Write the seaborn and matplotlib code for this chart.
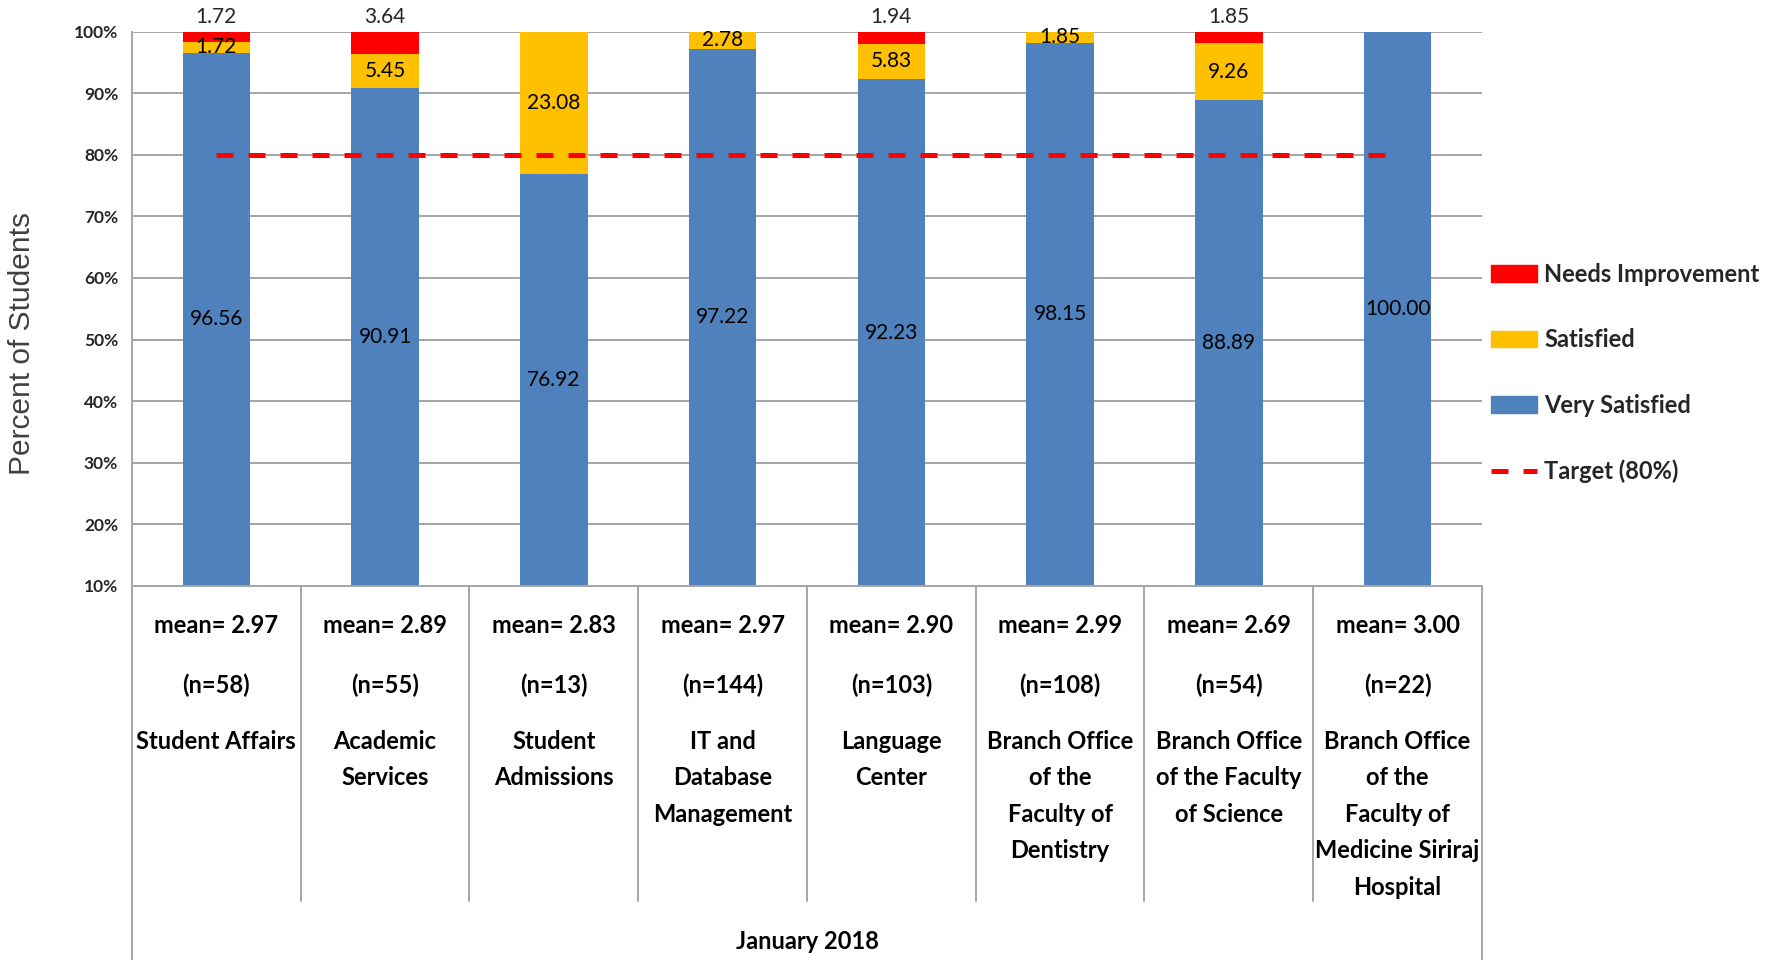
import numpy as np
import pandas as pd
import matplotlib.pyplot as plt
import seaborn as sns
from matplotlib.patches import Patch
from matplotlib.lines import Line2D

sns.set_style("white")
plt.rcParams["font.family"] = ["Lato", "DejaVu Sans"]

# data
offices = ["Student Affairs", "Academic\nServices", "Student\nAdmissions",
           "IT and\nDatabase\nManagement", "Language\nCenter",
           "Branch Office\nof the\nFaculty of\nDentistry",
           "Branch Office\nof the Faculty\nof Science",
           "Branch Office\nof the\nFaculty of\nMedicine Siriraj\nHospital"]
means = ["2.97", "2.89", "2.83", "2.97", "2.90", "2.99", "2.69", "3.00"]
counts = [58, 55, 13, 144, 103, 108, 54, 22]
very_satisfied = [96.56, 90.91, 76.92, 97.22, 92.23, 98.15, 88.89, 100.00]
satisfied = [1.72, 5.45, 23.08, 2.78, 5.83, 1.85, 9.26, 0.0]
needs_improvement = [1.72, 3.64, 0.0, 0.0, 1.94, 0.0, 1.85, 0.0]
target = [80] * len(offices)
period = "January 2018"

BLUE, YELLOW, RED = "#4F81BD", "#FFC000", "#FF0000"
GRID = "#A6A6A6"

df = pd.DataFrame({"office": offices, "very": very_satisfied,
                   "sat": satisfied, "needs": needs_improvement})
df["mid"] = df["very"] + df["sat"]
df["top"] = df["mid"] + df["needs"]

fig = plt.figure(figsize=(17.67, 9.6), dpi=100)
ax = fig.add_axes([0.0747, 0.3896, 0.764, 0.5775])

# stacked bars: draw cumulative totals back to front
sns.barplot(data=df, x="office", y="top", color=RED, width=0.4,
            saturation=1, linewidth=0, ax=ax)
sns.barplot(data=df, x="office", y="mid", color=YELLOW, width=0.4,
            saturation=1, linewidth=0, ax=ax)
sns.barplot(data=df, x="office", y="very", color=BLUE, width=0.4,
            saturation=1, linewidth=0, ax=ax)

# target line
sns.lineplot(x=np.arange(len(offices)), y=target, color=RED, linewidth=3.6,
             linestyle=(0, (3.4, 3)), ax=ax, zorder=5)

ax.set_ylim(10, 100)
ax.set_xlim(-0.5, len(offices) - 0.5)
ax.set_yticks(range(10, 101, 10))
ax.set_yticklabels([f"{t}%" for t in range(10, 101, 10)],
                   fontsize=12.5, fontweight="bold", color="#262626")
ax.set_xticks([])
ax.set_xlabel("")
ax.set_ylabel("")
ax.set_axisbelow(True)
ax.yaxis.grid(True, color=GRID, linewidth=1.4)
for s in ["top", "right"]:
    ax.spines[s].set_visible(False)
for s in ["left", "bottom"]:
    ax.spines[s].set_color(GRID)
    ax.spines[s].set_linewidth(1.4)
ax.tick_params(axis="y", length=6, width=1.4, color=GRID, pad=4)

# value labels
lab_font = dict(fontsize=15, color="black", ha="center", va="center")
ax.bar_label(ax.containers[0],
             labels=[f"{v:.2f}" if v > 0 else "" for v in needs_improvement],
             padding=3, fontsize=15)
for i, (v, s) in enumerate(zip(very_satisfied, satisfied)):
    ax.text(i, (10 + v) / 2, f"{v:.2f}", **lab_font)
    if s > 0:
        ax.text(i, v + s / 2, f"{s:.2f}", **lab_font)

# category table under the axis
tr = ax.get_xaxis_transform()
n = len(offices)
for i in range(n - 1):
    ax.plot([i + 0.5, i + 0.5], [0, -0.568], transform=tr, color=GRID,
            linewidth=1.4, clip_on=False)
for xe in [-0.5, n - 0.5]:
    ax.plot([xe, xe], [0, -0.675], transform=tr, color=GRID,
            linewidth=1.4, clip_on=False)

cat_font = dict(fontsize=17, fontweight="bold", ha="center", va="center",
                transform=tr, color="black")
for i, (name, m, c) in enumerate(zip(offices, means, counts)):
    ax.text(i, -0.071, f"mean= {m}", **cat_font)
    ax.text(i, -0.179, f"(n={c})", **cat_font)
    for j, line in enumerate(name.split("\n")):
        ax.text(i, -0.280 - j * 0.0658, line, **cat_font)
ax.text((n - 1) / 2, -0.642, period, **cat_font)

fig.text(0.0125, 0.642, "Percent of Students", rotation=90, ha="center",
         va="center", fontsize=21.5, color="#404040",
         family=["Liberation Sans", "DejaVu Sans"])

handles = [Patch(color=RED), Patch(color=YELLOW), Patch(color=BLUE),
           Line2D([], [], color=RED, linewidth=3.6, linestyle=(0, (3.4, 3)))]
fig.legend(handles, ["Needs Improvement", "Satisfied", "Very Satisfied",
                     "Target (80%)"],
           loc="center left", bbox_to_anchor=(0.8438, 0.6115), frameon=False,
           borderaxespad=0, borderpad=0, handlelength=1.95, handletextpad=0.3,
           labelspacing=1.8, prop=dict(size=17, weight="bold"))

fig.savefig("out.png", dpi=100)
